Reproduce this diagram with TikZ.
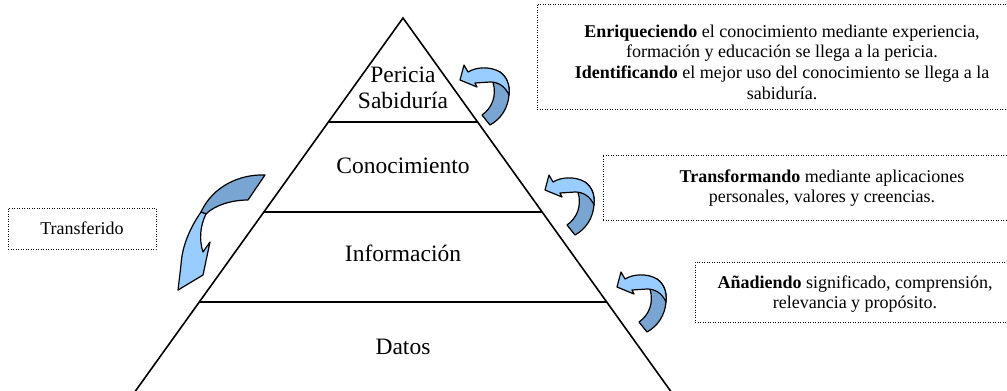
\documentclass[tikz,border=0pt]{standalone}
\usepackage{fontspec}
\setmainfont{Liberation Serif}
\usetikzlibrary{calc}
\definecolor{lightblue}{RGB}{153,204,255}
\definecolor{darkblue}{RGB}{120,165,210}
\tikzset{
  level/.style={font=\fontsize{23.5}{26}\selectfont, anchor=base, inner sep=0pt},
  boxtext/.style={font=\fontsize{18}{20.7}\selectfont, align=center, inner sep=0pt},
  dotbox/.style={draw, line width=0.9pt, dash pattern=on 0.9pt off 1.6pt, inner sep=0pt},
  pyr/.style={line width=1.6pt},
  arrowout/.style={draw=black, line width=1.2pt, line join=round},
  curlarrow/.pic={
    \filldraw[arrowout, fill=darkblue] (40,-8) .. controls (47,-3) and (50,5) .. (49,15)
      .. controls (48,28) and (41,39) .. (30,45) -- (22,35)
      .. controls (32,28) and (37,16) .. (33,2) -- cycle;
    \filldraw[arrowout, fill=lightblue] (0,0) -- (4,-15) -- (8,-8)
      .. controls (16,-13) and (30,-14) .. (40,-8)
      .. controls (47,-3) and (50,5) .. (49,15)
      .. controls (45,6) and (38,2) .. (30,2) -- (15,3) -- (17,7) -- cycle;
  }
}
\begin{document}
\begin{tikzpicture}[x=1pt,y=-1pt]
\useasboundingbox (0,0) rectangle (1007,391);
\clip (0,0) rectangle (1007,391);
% pyramid
\coordinate (apex) at (403,18);
\coordinate (bl) at (129,400);
\coordinate (br) at (677,400);
\draw[pyr] (bl) -- (apex) -- (br);
\draw[pyr] ($(apex)!0.2723!(bl)$) -- ($(apex)!0.2723!(br)$);
\draw[pyr] ($(apex)!0.5079!(bl)$) -- ($(apex)!0.5079!(br)$);
\draw[pyr] ($(apex)!0.7435!(bl)$) -- ($(apex)!0.7435!(br)$);
% labels
\node[level] (per) at (403,82) {Pericia};
\node[level] (sab) at (403,108) {Sabiduría};
\node[level] (con) at (403,173) {Conocimiento};
\node[level] (inf) at (403,261) {Información};
\node[level] (dat) at (403,354) {Datos};
% boxes
\node[dotbox, minimum width=482pt, minimum height=105pt] (b1) at (778,56.5) {};
\node[boxtext] (t1) at (782,62) {\textbf{Enriqueciendo} el conocimiento mediante experiencia,\\
formación y educación se llega a la pericia.\\
\textbf{Identificando} el mejor uso del conocimiento se llega a la\\
sabiduría.};
\node[dotbox, minimum width=438pt, minimum height=65pt] (b2) at (822,187.5) {};
\node[boxtext] (t2) at (822,188) {\textbf{Transformando} mediante aplicaciones\\
personales, valores y creencias.};
\node[dotbox, minimum width=320pt, minimum height=60pt] (b3) at (855,292) {};
\node[boxtext] (t3) at (855,294) {\textbf{Añadiendo} significado, comprensión,\\
relevancia y propósito.};
\node[dotbox, minimum width=148pt, minimum height=41pt] (b4) at (82,228.5) {};
\node[boxtext] (t4) at (82,228.5) {Transferido};
% curved arrows on the right
\pic (a1) at (460,80) {curlarrow};
\pic (a2) at (545,190) {curlarrow};
\pic (a3) at (617,287) {curlarrow};
% curved arrow on the left
\filldraw[arrowout, fill=darkblue] (265,175) .. controls (240,174) and (213,186) .. (201,212)
  -- (206,214) .. controls (215,205) and (232,200) .. (248,200) -- cycle;
\filldraw[arrowout, fill=lightblue] (201,212) .. controls (190,228) and (182,246) .. (181,265)
  -- (178,290) -- (203,275) -- (210,242) -- (203,252)
  .. controls (199,240) and (200,226) .. (206,214) -- cycle;
\end{tikzpicture}
\end{document}
